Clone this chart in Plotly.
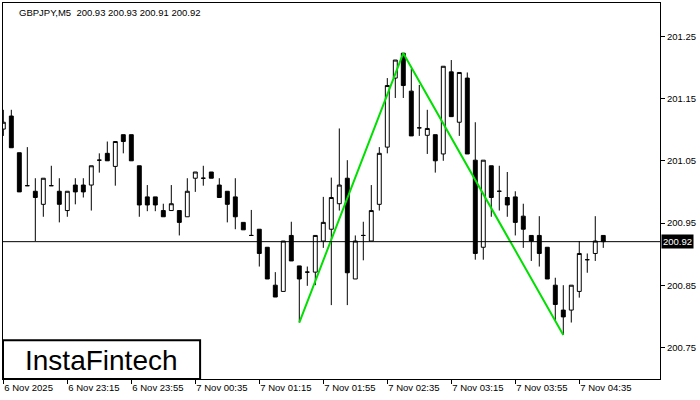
import pandas as pd
import plotly.graph_objects as go

# ---- data (GBPJPY M5) ----
times = [t.strftime("%H:%M") for t in pd.date_range("2025-11-06 22:35", "2025-11-07 04:50", freq="5min")]

opens = [201.101, 201.122, 201.063, 201.010, 201.001, 200.980, 201.010, 201.001, 200.970, 201.011,
         201.011, 201.011, 201.051, 201.062, 201.041, 201.092, 201.092, 201.042, 200.992, 200.992,
         200.970, 200.970, 200.970, 200.960, 201.022, 201.022, 201.032, 201.011, 201.001, 200.992,
         200.951, 200.930, 200.940, 200.911, 200.850, 200.840, 200.930, 200.881, 200.871, 200.871,
         200.921, 200.940, 200.981, 201.022, 200.860, 200.930, 200.921, 200.980, 201.072, 201.183,
         201.223, 201.162, 201.103, 201.091, 201.092, 201.061, 201.193, 201.112, 201.183, 201.051,
         200.911, 201.042, 201.001, 200.991, 200.992, 200.961, 200.930, 200.930, 200.911, 200.850,
         200.810, 200.810, 200.840, 200.891, 200.901, 200.930]
highs = [201.132, 201.132, 201.063, 201.072, 201.022, 201.022, 201.042, 201.022, 201.001, 201.022,
         201.022, 201.042, 201.062, 201.081, 201.081, 201.092, 201.092, 201.042, 201.011, 200.992,
         200.981, 201.011, 200.970, 201.022, 201.032, 201.042, 201.032, 201.022, 201.001, 201.022,
         200.951, 200.971, 200.940, 200.911, 200.871, 200.921, 200.952, 200.881, 200.880, 200.930,
         200.992, 201.023, 201.102, 201.051, 200.930, 200.952, 201.011, 201.072, 201.183, 201.212,
         201.223, 201.198, 201.172, 201.132, 201.092, 201.202, 201.212, 201.192, 201.192, 201.112,
         201.051, 201.042, 201.042, 201.032, 201.001, 200.981, 200.930, 200.961, 200.911, 200.862,
         200.850, 200.850, 200.921, 200.901, 200.961, 200.930]
lows = [201.090, 201.071, 201.000, 201.010, 200.921, 200.960, 201.010, 200.951, 200.960, 200.980,
        200.991, 200.970, 201.031, 201.050, 201.010, 201.062, 201.050, 200.960, 200.969, 200.969,
        200.960, 200.970, 200.930, 200.960, 201.000, 201.010, 201.022, 200.991, 200.951, 200.940,
        200.939, 200.930, 200.880, 200.860, 200.831, 200.840, 200.889, 200.790, 200.849, 200.850,
        200.910, 200.818, 200.970, 200.818, 200.860, 200.890, 200.921, 200.970, 201.062, 201.151,
        201.151, 201.090, 201.090, 201.061, 201.031, 201.050, 201.121, 201.090, 201.061, 200.891,
        200.891, 200.960, 200.970, 200.960, 200.930, 200.910, 200.889, 200.880, 200.860, 200.794,
        200.770, 200.790, 200.830, 200.870, 200.889, 200.910]
closes = [201.112, 201.071, 201.000, 201.010, 200.991, 201.022, 201.010, 200.980, 201.001, 201.000,
          201.000, 201.042, 201.051, 201.050, 201.081, 201.081, 201.050, 200.979, 200.979, 200.979,
          200.960, 200.981, 200.951, 201.001, 201.032, 201.022, 201.022, 200.991, 200.980, 200.960,
          200.939, 200.930, 200.901, 200.860, 200.831, 200.921, 200.889, 200.860, 200.871, 200.930,
          200.951, 200.991, 201.011, 200.870, 200.921, 200.930, 200.970, 201.062, 201.171, 201.212,
          201.171, 201.090, 201.103, 201.102, 201.050, 201.202, 201.121, 201.192, 201.061, 200.901,
          201.051, 200.991, 201.001, 200.979, 200.951, 200.940, 200.921, 200.901, 200.860, 200.819,
          200.799, 200.850, 200.901, 200.891, 200.921, 200.920]

pattern_times = ["01:40", "02:45", "04:25"]
pattern_prices = [200.790, 201.223, 200.770]

current_price = 200.92
y_tick_vals = [200.75, 200.85, 200.95, 201.05, 201.15, 201.25]
x_tick_times = ["22:35", "23:15", "23:55", "00:35", "01:15", "01:55", "02:35", "03:15", "03:55", "04:35"]
x_tick_text = ["6 Nov 2025", "6 Nov 23:15", "6 Nov 23:55", "7 Nov 00:35", "7 Nov 01:15",
               "7 Nov 01:55", "7 Nov 02:35", "7 Nov 03:15", "7 Nov 03:55", "7 Nov 04:35"]
header = "GBPJPY,M5  200.93 200.93 200.91 200.92"
logo = "InstaFintech"

FONT = "Liberation Sans"

fig = go.Figure()
fig.add_trace(go.Candlestick(
    x=times, open=opens, high=highs, low=lows, close=closes,
    increasing=dict(line=dict(color="black", width=1), fillcolor="white"),
    decreasing=dict(line=dict(color="black", width=1), fillcolor="black"),
    whiskerwidth=0, hoverinfo="skip", showlegend=False,
))
fig.add_trace(go.Scatter(
    x=pattern_times, y=pattern_prices, mode="lines",
    line=dict(color="#00e000", width=2), hoverinfo="skip", showlegend=False,
))

fig.add_shape(type="line", xref="paper", x0=0, x1=1, yref="y", y0=current_price, y1=current_price,
              line=dict(color="black", width=1))

# logo box
fig.add_shape(type="rect", xref="paper", yref="paper", x0=0, x1=0.3, y0=0, y1=0.103,
              line=dict(color="black", width=2), fillcolor="white", layer="above")
fig.add_annotation(xref="paper", yref="paper", x=0.15, y=0.05, text=logo, showarrow=False,
                   font=dict(family=FONT, size=28, color="black"), xanchor="center", yanchor="middle")

fig.add_annotation(xref="paper", yref="paper", x=0.021, y=0.995, text=header, showarrow=False,
                   xanchor="left", yanchor="top", font=dict(family=FONT, size=9.5, color="black"))

fig.add_annotation(xref="paper", yref="y", x=1, y=current_price, text=str(current_price), showarrow=False,
                   xanchor="left", yanchor="middle", xshift=1, bgcolor="black", borderpad=1,
                   font=dict(family=FONT, size=9.5, color="white"))

fig.update_layout(
    width=700, height=400,
    margin=dict(l=3, r=40, t=3, b=21, autoexpand=False),
    paper_bgcolor="white", plot_bgcolor="white",
    font=dict(family=FONT, size=9.5, color="black"),
    boxgap=0.3,
    hovermode=False,
    xaxis=dict(
        type="category", categoryorder="array", categoryarray=times, automargin=False,
        range=[-0.04, 82.09], rangeslider=dict(visible=False),
        showgrid=False, zeroline=False, showline=True, mirror=True, linecolor="black", linewidth=1,
        tickmode="array", tickvals=x_tick_times, ticktext=x_tick_text,
        ticks="outside", ticklen=4, tickcolor="black", ticklabelposition="outside right",
        tickfont=dict(family=FONT, size=9.5, color="black"),
    ),
    yaxis=dict(
        side="right", range=[200.6992, 201.3037], automargin=False,
        showgrid=False, zeroline=False, showline=True, mirror=True, linecolor="black", linewidth=1,
        tickmode="array", tickvals=y_tick_vals, ticktext=[f"{v:.2f}" for v in y_tick_vals],
        ticks="outside", ticklen=4, tickcolor="black",
        tickfont=dict(family=FONT, size=9.5, color="black"),
    ),
)

fig.write_html("out.html", config={"displayModeBar": False},
               post_script="document.body.style.margin='0';document.body.style.padding='0';")
